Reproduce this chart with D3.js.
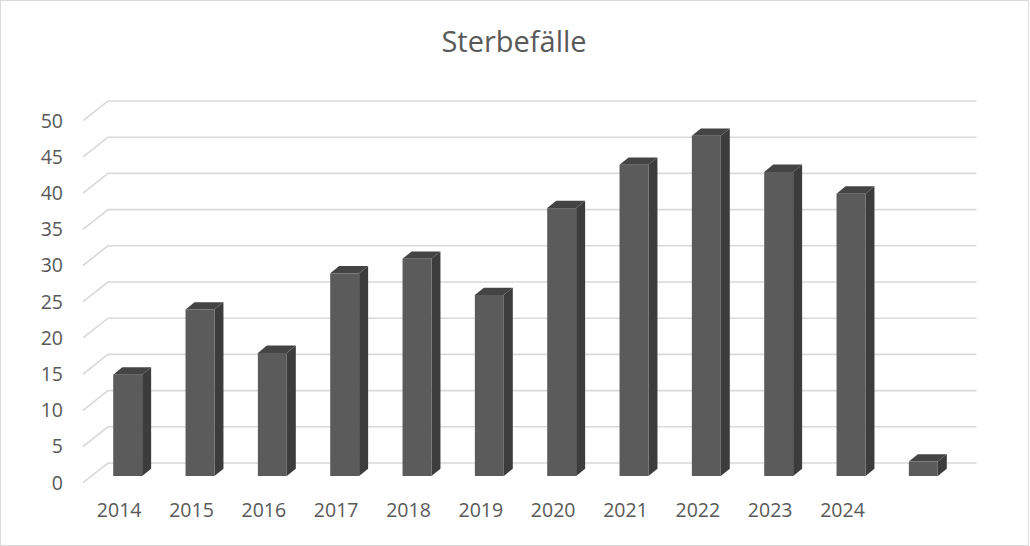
<!DOCTYPE html>
<html><head><meta charset="utf-8">
<script src="https://cdn.jsdelivr.net/npm/d3@7/dist/d3.min.js"></script>
<style>html,body{margin:0;padding:0;background:#fff;}svg{display:block;}</style>
</head><body>
<script>
const categories = ["2014","2015","2016","2017","2018","2019","2020","2021","2022","2023","2024",""];
const values = [14,23,17,28,30,25,37,43,47,42,39,2];
const yTicks = [0,5,10,15,20,25,30,35,40,45,50];
const title = "Sterbefälle";

const W = 1030, H = 546;
const font = "'Open Sans', sans-serif";
const svg = d3.select("body").append("svg").attr("width", W).attr("height", H);

svg.append("rect").attr("x",0.5).attr("y",0.5).attr("width",W-2).attr("height",H-1)
  .attr("fill","#fff").attr("stroke","#d9d9d9").attr("stroke-width",1);

// depth geometry
const depthDx = 25, depthDy = -19.7;   // full floor depth
const barFrac = 0.34;                  // where bars sit inside the depth
const barDx = 9, barDy = -7.3;         // bar thickness

const y = d3.scaleLinear().domain([0,50]).range([476, 114]); // at bar front plane
const yFrontEdge = v => y(v) - depthDy*barFrac;
const x = d3.scaleBand().domain(categories)
  .range([91.5, 959.5]).paddingInner(0.6).paddingOuter(0.3);

const floorLeft = 91.5 - depthDx*barFrac;   // front edge left x
const floorRight = 959.5 - depthDx*barFrac;
const backLeft = floorLeft + depthDx, backRight = floorRight + depthDx + 0.5;

// gridlines
const grid = svg.append("g").attr("stroke","#d9d9d9").attr("stroke-width",1.6).attr("fill","none");
yTicks.forEach(t => {
  const yf = yFrontEdge(t);
  grid.append("path").attr("d",
    `M${floorLeft},${yf} L${backLeft},${yf+depthDy} L${backRight},${yf+depthDy}`);
});

// y labels
svg.append("g").selectAll("text").data(yTicks).join("text")
  .attr("x", 63).attr("y", d => yFrontEdge(d)).attr("dy","0.35em")
  .attr("text-anchor","end").attr("font-family",font).attr("font-size",19.5)
  .attr("fill","#595959").text(d => d);

// x labels
svg.append("g").selectAll("text").data(categories).join("text")
  .attr("x", d => x(d) + x.bandwidth()/2 - depthDx*barFrac)
  .attr("y", 510).attr("dy","0.35em")
  .attr("text-anchor","middle").attr("font-family",font).attr("font-size",19.5)
  .attr("fill","#595959").text(d => d);

// bars
const bw = x.bandwidth();
const bars = svg.append("g").selectAll("g").data(categories.map((c,i)=>({c, v: values[i]}))).join("g");
bars.append("polygon").attr("fill","#3c3c3c")
  .attr("points", d => {
    const x0 = x(d.c)+bw, yt = y(d.v), yb = y(0);
    return [[x0,yt],[x0+barDx,yt+barDy],[x0+barDx,yb+barDy],[x0,yb]].join(" ");
  });
bars.append("polygon").attr("fill","#444444")
  .attr("points", d => {
    const x0 = x(d.c), yt = y(d.v);
    return [[x0,yt],[x0+barDx,yt+barDy],[x0+bw+barDx,yt+barDy],[x0+bw,yt]].join(" ");
  });
bars.append("rect").attr("fill","#5b5b5b")
  .attr("x", d => x(d.c)).attr("y", d => y(d.v))
  .attr("width", bw).attr("height", d => y(0) - y(d.v));

// title
svg.append("text").attr("x", 514).attr("y", 52).attr("text-anchor","middle")
  .attr("font-family",font).attr("font-size",29).attr("fill","#595959").text(title);
</script>
</body></html>
